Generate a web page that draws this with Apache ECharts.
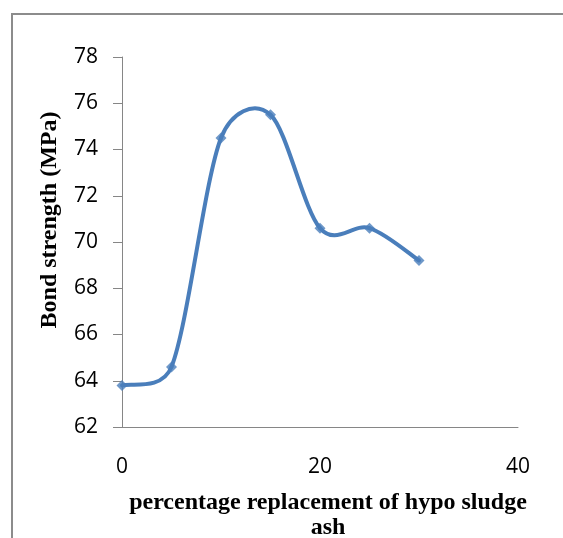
<!DOCTYPE html>
<html>
<head>
<meta charset="utf-8">
<script src="https://cdn.jsdelivr.net/npm/echarts@6/dist/echarts.min.js"></script>
<style>
  html, body { margin: 0; padding: 0; background: #fff; }
  #chart { width: 563px; height: 538px; }
</style>
</head>
<body>
<div id="chart"></div>
<script>
// replacement % vs bond strength
const replacement = [0, 5, 10, 15, 20, 25, 30];
const bondStrength = [63.8, 64.6, 74.5, 75.5, 70.6, 70.6, 69.2];
const xTicks = [0, 20, 40];
const yTicks = [62, 64, 66, 68, 70, 72, 74, 76, 78];

let myChart = echarts.init(document.getElementById('chart'));

const labelFont = '"Open Sans", "Liberation Sans", sans-serif';
const titleFont = '"Liberation Serif", "DejaVu Serif", serif';
const lineColor = '#4a7ebb';

const points = replacement.map(function (x, i) { return [x, bondStrength[i]]; });

// control offset = (next - prev) / 6, but never longer than half the segment
function ctrlOffset(prev, next, segA, segB) {
    let vx = (next[0] - prev[0]) / 6;
    let vy = (next[1] - prev[1]) / 6;
    const len = Math.sqrt(vx * vx + vy * vy);
    const segLen = Math.sqrt(Math.pow(segB[0] - segA[0], 2) + Math.pow(segB[1] - segA[1], 2));
    if (len > segLen / 2 && len > 0) {
        vx *= segLen / 2 / len;
        vy *= segLen / 2 / len;
    }
    return [vx, vy];
}

// excel-like smoothed line drawn segment by segment
function renderSegment(params, api) {
    const i = params.dataIndex;
    if (i >= points.length - 1) return null;
    const p0 = api.coord(points[Math.max(i - 1, 0)]);
    const p1 = api.coord(points[i]);
    const p2 = api.coord(points[i + 1]);
    const p3 = api.coord(points[Math.min(i + 2, points.length - 1)]);
    const c1 = ctrlOffset(p0, p2, p1, p2);
    const c2 = ctrlOffset(p1, p3, p1, p2);
    return {
        type: 'bezierCurve',
        shape: {
            x1: p1[0], y1: p1[1],
            cpx1: p1[0] + c1[0], cpy1: p1[1] + c1[1],
            cpx2: p2[0] - c2[0], cpy2: p2[1] - c2[1],
            x2: p2[0], y2: p2[1]
        },
        style: { stroke: lineColor, lineWidth: 4, fill: null, lineCap: 'round' }
    };
}

option = {
    backgroundColor: '#fff',
    animation: false,
    grid: {
        left: 122,
        right: 45,
        top: 57,
        bottom: 111,
        outerBoundsMode: 'none'
    },
    graphic: [{
        type: 'polyline', // chart frame (only top + left visible)
        shape: { points: [[12, 540], [12, 14], [565, 14]] },
        style: { stroke: '#8c8c8c', lineWidth: 2, fill: null }
    }],
    xAxis: {
        type: 'value',
        min: xTicks[0],
        max: xTicks[xTicks.length - 1],
        interval: xTicks[1] - xTicks[0],
        name: 'percentage replacement of hypo sludge\nash',
        nameLocation: 'middle',
        nameGap: 63,
        nameTextStyle: {
            fontFamily: titleFont,
            fontWeight: 'bold',
            fontSize: 24,
            color: '#000',
            lineHeight: 25,
            padding: [0, 0, 0, 16]
        },
        axisLine: { lineStyle: { color: '#868686', width: 1 } },
        axisTick: { show: false },
        splitLine: { show: false },
        axisLabel: {
            margin: 30,
            fontFamily: labelFont,
            fontSize: 21,
            color: '#000'
        }
    },
    yAxis: {
        type: 'value',
        min: yTicks[0],
        max: yTicks[yTicks.length - 1],
        interval: yTicks[1] - yTicks[0],
        name: 'Bond strength (MPa)',
        nameLocation: 'middle',
        nameGap: 60,
        nameTextStyle: {
            fontFamily: titleFont,
            fontWeight: 'bold',
            fontSize: 24,
            color: '#000',
            padding: [0, 0, 0, 44]
        },
        axisLine: { show: true, lineStyle: { color: '#868686', width: 1 } },
        axisTick: { show: true, inside: false, length: 9, lineStyle: { color: '#868686' } },
        splitLine: { show: false },
        axisLabel: {
            margin: 24,
            fontFamily: labelFont,
            fontSize: 21,
            color: '#000'
        }
    },
    series: [{
        type: 'custom',
        renderItem: renderSegment,
        data: points,
        silent: true,
        z: 2
    }, {
        type: 'scatter',
        data: points,
        symbol: 'diamond',
        symbolSize: 11,
        itemStyle: { color: lineColor },
        z: 3
    }]
};

myChart.setOption(option);
</script>
</body>
</html>
